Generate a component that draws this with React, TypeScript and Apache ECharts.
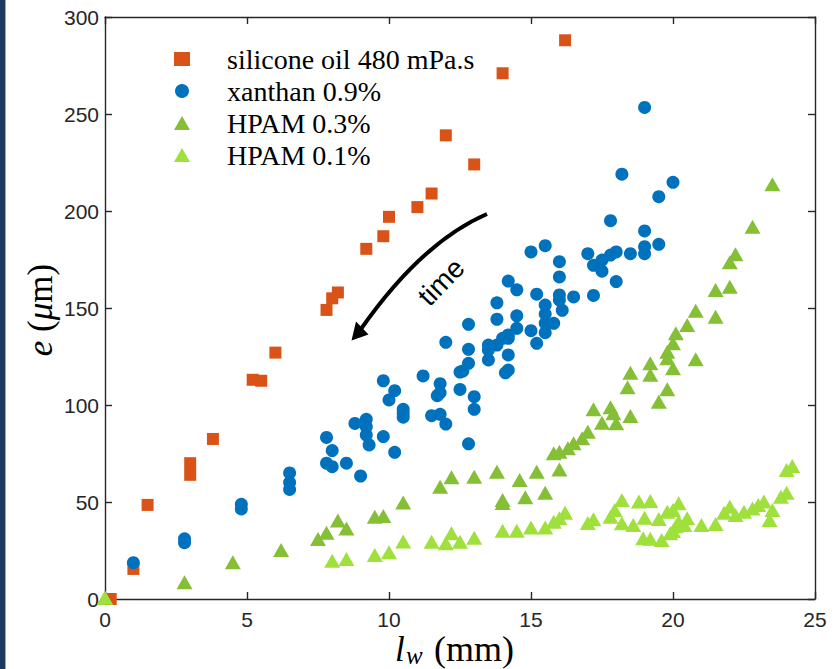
import React, { useEffect, useRef } from "react";
import * as echarts from "echarts";

const xTickValues = [0, 5, 10, 15, 20, 25];
const yTickValues = [0, 50, 100, 150, 200, 250, 300];
const seriesNames = ["silicone oil 480 mPa.s", "xanthan 0.9%", "HPAM 0.3%", "HPAM 0.1%"];
const seriesColors = ["#D95319", "#0072BD", "#84BF36", "#9FE03C"];

const siliconeOil: [number, number][] = [
  [0.2, 0], [1, 15.5], [1.5, 48.5], [3, 70], [3, 64], [3.8, 82.5], [5.2, 113], [5.5, 112.5],
  [6, 127], [7.8, 149], [8, 155], [8.2, 158], [9.2, 180.5], [9.8, 187], [10, 197], [11, 202],
  [11.5, 209], [12, 239], [13, 224], [14, 271], [16.2, 288],
];

const xanthan: [number, number][] = [
  [1.0, 18.7], [2.8, 31], [2.8, 29], [4.8, 48.8], [4.8, 46.4], [6.5, 65], [6.5, 60], [6.5, 56.5],
  [7.8, 83.3], [8.0, 76.5], [7.8, 70], [8.0, 68.2], [8.5, 70], [9.0, 63.4], [8.8, 90.5], [9.2, 92.6],
  [9.2, 88.8], [9.2, 84.5], [9.3, 79.4], [9.8, 112.5], [9.8, 83.7], [10.2, 107.4], [10.0, 102.6],
  [10.2, 75.6], [10.5, 97.8], [10.5, 95.7], [10.5, 93.7], [11.2, 115], [11.8, 111], [11.8, 106.3],
  [11.7, 104.8], [11.5, 94.5], [11.8, 95.2], [12.0, 90.2], [12.0, 132.3], [12.5, 108], [12.5, 117],
  [12.6, 117.5], [12.8, 121.5], [12.8, 128.7], [12.8, 141.6], [13.0, 104.3], [13.0, 97.8], [12.8, 80],
  [13.5, 130.9], [13.5, 128.4], [13.5, 123.2], [13.8, 130.9], [13.8, 144.2], [13.8, 152.7], [14.0, 134.4],
  [14.2, 136.1], [14.2, 134.4], [14.5, 146], [14.5, 139.5], [14.2, 125.8], [14.1, 116.6], [14.2, 118],
  [15.0, 138.3], [15.2, 131.8], [14.2, 163.9], [14.5, 159.4], [15.0, 178.9], [15.5, 182.1], [15.2, 157.1],
  [15.5, 151.5], [15.5, 146.9], [15.5, 142.1], [15.8, 142.1], [15.5, 137.3], [16.0, 173.9], [16.0, 166],
  [16.0, 156.7], [16.0, 154.1], [16.5, 155.7], [16.1, 148.8], [17.2, 156.5], [17.0, 178], [17.2, 172],
  [17.5, 174.7], [17.5, 169], [17.8, 177.3], [18.0, 178.9], [18.0, 163.6], [17.8, 195], [18.5, 178],
  [19.0, 178], [19.0, 181.6], [19.0, 189.7], [19.5, 182.8], [19.5, 207.4], [18.2, 219], [20.0, 214.8],
  [19.0, 253.4],
];

const hpam03: [number, number][] = [
  [0, 0.7], [2.8, 8.6], [4.5, 18.9], [6.2, 25.3], [7.5, 30.9], [7.8, 34.2], [8.2, 40.4], [8.5, 36.4],
  [9.5, 42.4], [9.8, 42.8], [10.5, 49.8], [11.8, 57.9], [12.2, 62.7], [13.0, 63], [13.8, 65.6],
  [14.0, 51], [14.0, 49.5], [14.6, 61.3], [14.8, 52.4], [15.2, 65.6], [15.5, 54.8], [16.0, 66.8],
  [15.8, 75.1], [16.0, 75.9], [16.3, 77.7], [16.5, 80.3], [16.8, 82.8], [17.0, 86.2], [17.2, 97.8],
  [17.5, 90.9], [17.8, 98.8], [17.9, 95.7], [18.0, 90.6], [18.5, 94.3], [18.4, 109.1], [18.5, 116.6],
  [19.2, 121.5], [19.2, 115.6], [19.5, 101.7], [19.8, 108.1], [20.0, 119], [19.8, 124.1], [19.8, 127.5],
  [20.0, 131.8], [20.1, 137], [20.5, 141.2], [20.8, 148.6], [20.8, 123.6], [21.5, 145.5], [21.5, 159.3],
  [22.0, 161], [22.0, 173.6], [22.2, 177.7], [22.8, 191.9], [23.5, 213.8],
];

const hpam01: [number, number][] = [
  [0, 0.7], [8.0, 19.7], [8.5, 20.6], [9.5, 22.7], [10.0, 24.1], [10.5, 29.7], [11.5, 29.5], [12.0, 28.7],
  [12.2, 33.9], [12.5, 29.5], [13.0, 31.6], [14.0, 35.2], [14.5, 35.2], [15.0, 36.8], [15.5, 36.8],
  [15.8, 39.8], [16.0, 41.6], [16.2, 44.5], [17.0, 39.2], [17.2, 41.1], [17.8, 42.4], [17.95, 45.9],
  [18.2, 51], [18.2, 39], [18.6, 38.1], [18.8, 50.2], [19.2, 50.5], [19.0, 41.9], [19.5, 41.2],
  [18.95, 31.3], [19.2, 31.0], [19.6, 30.4], [19.8, 45], [20.0, 45.9], [20.2, 49.3], [19.9, 33.9],
  [20.0, 35], [20.1, 37.5], [20.4, 38.1], [20.5, 41.6], [20.2, 39.8], [21.0, 38.1], [21.5, 38.7],
  [21.8, 44.5], [22.0, 47.6], [22.2, 43.3], [22.5, 45], [22.8, 46.7], [23.0, 48.5], [23.2, 50.2],
  [23.5, 45.9], [23.4, 40.7], [23.8, 52.7], [24.0, 54.8], [24.0, 66.5], [24.2, 68.6],
];

const axisColor = "#262626";
const sans = "'Liberation Sans', Arial, sans-serif";
const serif = "'Liberation Serif', 'Times New Roman', serif";

function axisBase(min: number, max: number, interval: number, showLabel: boolean) {
  return {
    type: "value",
    min,
    max,
    interval,
    axisLine: { show: true, onZero: false, lineStyle: { color: axisColor, width: 1.4 } },
    axisTick: { show: true, inside: true, length: 7, lineStyle: { color: axisColor, width: 1.4 } },
    axisLabel: { show: showLabel, fontSize: 21, fontFamily: sans, color: axisColor },
    splitLine: { show: false },
  };
}

export default function App() {
  const ref = useRef<HTMLDivElement>(null);
  useEffect(() => {
    const chart = echarts.init(ref.current!, null, { renderer: "svg" });
    const xMin = xTickValues[0];
    const xMax = xTickValues[xTickValues.length - 1];
    const xInt = xTickValues[1] - xTickValues[0];
    const yMin = yTickValues[0];
    const yMax = yTickValues[yTickValues.length - 1];
    const yInt = yTickValues[1] - yTickValues[0];
    const datasets = [siliconeOil, xanthan, hpam03, hpam01];
    const symbols = ["rect", "circle", "triangle", "triangle"];
    const sizes: any[] = [12, 13, [16, 14], [16, 14]];
    const option: any = {
      animation: false,
      backgroundColor: "#ffffff",
      grid: { left: 105, right: 24, top: 17, bottom: 70 },
      xAxis: [
        { ...axisBase(xMin, xMax, xInt, true), position: "bottom", axisLabel: { ...axisBase(xMin, xMax, xInt, true).axisLabel, margin: 10 } },
        { ...axisBase(xMin, xMax, xInt, false), position: "top" },
      ],
      yAxis: [
        { ...axisBase(yMin, yMax, yInt, true), position: "left", axisLabel: { ...axisBase(yMin, yMax, yInt, true).axisLabel, margin: 6 } },
        { ...axisBase(yMin, yMax, yInt, false), position: "right" },
      ],
      legend: {
        orient: "vertical",
        left: 169,
        top: 40,
        itemWidth: 16,
        itemHeight: 14,
        itemGap: 4,
        data: seriesNames,
        formatter: (name: string) => "{g|}" + name,
        textStyle: {
          fontSize: 28,
          fontFamily: serif,
          color: "#000",
          rich: { g: { width: 32 } },
        },
      },
      series: seriesNames.map((name, i) => ({
        name,
        type: "scatter",
        xAxisIndex: 0,
        yAxisIndex: 0,
        symbol: symbols[i],
        symbolSize: sizes[i],
        itemStyle: { color: seriesColors[i], opacity: 1 },
        data: datasets[i],
        z: 2 + i,
      })),
      graphic: [
        { type: "rect", left: 0, top: 0, shape: { x: 0, y: 0, width: 5, height: 669 }, style: { fill: "#1d3a5f" } },
        { type: "line", shape: { x1: 5.5, y1: 0, x2: 5.5, y2: 669 }, style: { stroke: "#9aa8b8", lineWidth: 1 } },
        {
          type: "bezierCurve",
          shape: { x1: 487, y1: 214, cpx1: 422, cpy1: 242, x2: 361, y2: 329 },
          style: { stroke: "#000", lineWidth: 4, fill: null },
        },
        {
          type: "polygon",
          shape: { points: [[351.5, 340.5], [356, 321.5], [368.5, 334.5]] },
          style: { fill: "#000" },
        },
        {
          type: "text",
          x: 441,
          y: 282,
          rotation: 0.8,
          style: { text: "time", fontSize: 28, fontFamily: sans, fill: "#000", align: "center", verticalAlign: "middle" },
        },
        {
          type: "text",
          x: 395,
          y: 649,
          style: { text: "l", fontSize: 35, fontStyle: "italic", fontFamily: serif, fill: "#000", align: "left", verticalAlign: "middle" },
        },
        {
          type: "text",
          x: 406,
          y: 655,
          style: { text: "w", fontSize: 25, fontStyle: "italic", fontFamily: serif, fill: "#000", align: "left", verticalAlign: "middle" },
        },
        {
          type: "text",
          x: 434,
          y: 649,
          style: { text: "(mm)", fontSize: 36, fontFamily: serif, fill: "#000", align: "left", verticalAlign: "middle" },
        },
        {
          type: "text",
          x: 40,
          y: 310,
          rotation: Math.PI / 2,
          style: {
            text: "{i|e} ({i|μ}{n|m})",
            fontSize: 35,
            fontFamily: serif,
            fill: "#000",
            align: "center",
            verticalAlign: "middle",
            rich: {
              i: { fontSize: 35, fontFamily: serif, fontStyle: "italic", fill: "#000" },
              n: { fontSize: 35, fontFamily: serif, fill: "#000" },
            },
          },
        },
      ],
    };
    chart.setOption(option);
    return () => chart.dispose();
  }, []);
  return (
    <div
      ref={ref}
      style={{ position: "fixed", left: 0, top: 0, width: 839, height: 669, background: "#fff" }}
    />
  );
}
